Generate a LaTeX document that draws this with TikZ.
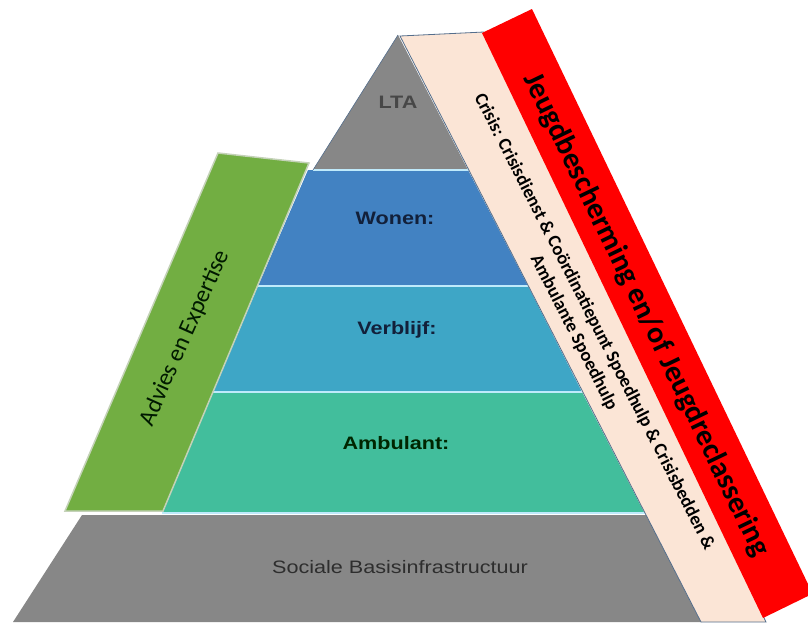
\documentclass[tikz,border=0pt]{standalone}
\usepackage{fontspec}
\setmainfont{Liberation Sans}
\newfontfamily\carlito{Carlito}
\usepackage{tikz}
\definecolor{pyrgray}{RGB}{135,135,135}
\definecolor{wonenblue}{RGB}{66,130,194}
\definecolor{verblijfblue}{RGB}{62,166,198}
\definecolor{ambulantgreen}{RGB}{66,190,156}
\definecolor{adviesgreen}{RGB}{114,174,66}
\definecolor{crisisbeige}{RGB}{251,229,214}
\definecolor{edgeblue}{RGB}{84,110,140}
\definecolor{labelnavy}{RGB}{18,32,58}
\tikzset{
	layer text/.style={font=\bfseries\fontsize{18}{20}\selectfont, text=labelnavy, xscale=1.2},
	layer line/.style={line width=1.5pt, color=white!75!cyan}
}

\begin{document}
\begin{tikzpicture}[x=1pt, y=-1pt]
			%%%%% START %%%%%
			\useasboundingbox (0, 0) rectangle (808, 622);
			
			\fill[pyrgray] (398, 35) -- (468, 170) -- (313, 170) -- cycle;
			\fill[wonenblue] (308, 170) -- (468, 170) -- (528, 286) -- (258, 286) -- cycle;
			\fill[verblijfblue] (258, 286) -- (528, 286) -- (582, 392) -- (213, 392) -- cycle;
			\fill[ambulantgreen] (213, 392) -- (582, 392) -- (644, 512) -- (162, 512) -- cycle;
			\fill[pyrgray] (82, 515) -- (646, 515) -- (702, 622) -- (13, 622) -- cycle;
			
			\draw[layer line] (313, 170) -- (468, 170);
			\draw[layer line] (258, 286) -- (528, 286);
			\draw[layer line] (213, 392) -- (582, 392);
			\draw[layer line] (162, 513) -- (645, 513);
			
			\draw[line width=0.6pt, color=edgeblue] (398, 35) -- (313, 170);
			
			\draw[fill=adviesgreen, draw=white!70!adviesgreen!80!gray, line width=1.5pt] (218, 153) -- (309, 163) -- (163, 511) -- (65, 511) -- cycle;
			
			\draw[fill=crisisbeige, draw=edgeblue, line width=0.8pt] (400, 36) -- (484, 32) -- (766, 622) -- (701, 622) -- cycle;
			\fill[red] (482, 33) -- (532, 9) -- (808, 584) -- (808, 596) -- (763, 618) -- cycle;
			
			\node[layer text, text=black!72] (lta) at (398, 102) {LTA};
			\node[layer text] (wonen) at (395, 218) {Wonen:};
			\node[layer text] (verblijf) at (397, 330) {Verblijf:};
			\node[layer text, text=black!85!green] (ambulant) at (396, 443) {Ambulant:};
			\node[font=\fontsize{18}{20}\selectfont, text=black!82, xscale=1.2] (sociale) at (400, 567) {Sociale Basisinfrastructuur};
			
			\node[rotate=66, text=black!90!green] (advies) at (185, 338) {\carlito\fontsize{24}{28}\selectfont Advies en Expertise};
			\node[rotate=-63, align=center, font=\carlito\bfseries\fontsize{18.5}{23}\selectfont] (crisis) at (584, 327) {Crisis: Crisisdienst \& Coördinatiepunt Spoedhulp \& Crisisbedden \&\\ Ambulante Spoedhulp};
			\node[rotate=-64.3, font=\carlito\bfseries\fontsize{30}{34}\selectfont] (jeugd) at (646, 315) {Jeugdbescherming en/of Jeugdreclassering};
			
			%%%%% END %%%%%
		\end{tikzpicture}
\end{document}
